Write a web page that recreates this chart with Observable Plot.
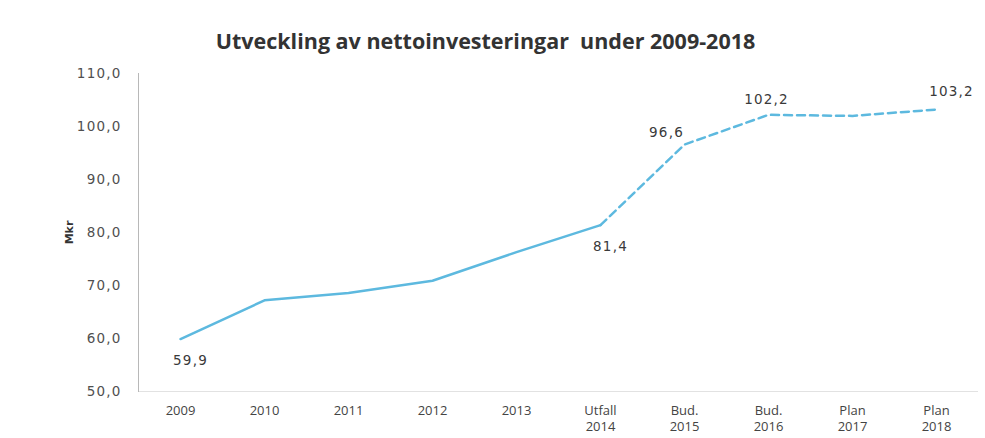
<!DOCTYPE html>
<html>
<head>
<meta charset="utf-8">
<script src="https://cdn.jsdelivr.net/npm/d3@7"></script>
<script src="https://cdn.jsdelivr.net/npm/@observablehq/plot@0.6"></script>
<style>
  html, body { margin: 0; padding: 0; background: #fff; }
  #wrap { width: 985px; height: 438px; position: relative; overflow: hidden; }
  #title { height: 60px; box-sizing: border-box; padding-top: 28px; text-align: center; padding-right: 14px;
    font-family: "Open Sans", sans-serif; font-weight: 700; font-size: 21.5px; line-height: 26px; color: #333; }
  #chart svg { display: block; }
</style>
</head>
<body>
<div id="wrap">
  <div id="title">Utveckling av nettoinvesteringar&nbsp; under 2009-2018</div>
  <div id="chart"></div>
</div>
<script>
const years    = ["2009", "2010", "2011", "2012", "2013", "2014", "2015", "2016", "2017", "2018"];
const prefixes = ["", "", "", "", "", "Utfall", "Bud.", "Bud.", "Plan", "Plan"];
const values   = [59.9, 67.2, 68.6, 70.9, 76.3, 81.4, 96.6, 102.2, 102.0, 103.2];
const yTicks   = [50, 60, 70, 80, 90, 100, 110];
const outcomeCount = 6;            // 2009–2014 are outcomes (solid), 2014 onwards are plans (dashed)
const labelBelow = ["2009", "2014"];
const labelAboveLeft = ["2015"];
const labelAbove = ["2016"];
const labelAboveRight = ["2018"];

const rows = years.map((y, i) => ({year: y, value: values[i], i}));
const solid = rows.filter(d => d.i < outcomeCount);
const dashed = rows.filter(d => d.i >= outcomeCount - 1);
const fmt = v => v.toFixed(1).replace(".", ",");
const catLabel = Object.fromEntries(years.map((y, i) => [y, prefixes[i] ? prefixes[i] + "\n" + y : y]));

const blue = "#5db9df";
const textStyle = {fontFamily: "'DejaVu Sans', sans-serif", fontSize: 13.5, fill: "#3a3a3a"};

const plot = Plot.plot({
  width: 985,
  height: 378,
  marginLeft: 138,
  marginRight: 7,
  marginTop: 13,
  marginBottom: 47,
  style: {fontFamily: "'Open Sans', sans-serif", fontSize: "13px", color: "#444", background: "#fff"},
  x: {type: "point", domain: years, padding: 0.5, label: null},
  y: {domain: [50, 110], label: null},
  marks: [
    Plot.ruleY([50], {stroke: "#e2e2e2", strokeWidth: 1}),
    Plot.frame({anchor: "left", stroke: "#b8b8b8", strokeDasharray: "3,1"}),
    Plot.axisY({ticks: yTicks, tickSize: 0, tickPadding: 17, tickFormat: fmt,
      fontFamily: "'DejaVu Sans', sans-serif", fontSize: 13.5, fill: "#505050",
      label: "Mkr", labelAnchor: "center", labelOffset: 73, labelArrow: "none"}),
    Plot.axisX({tickSize: 0, tickPadding: 11, tickFormat: d => catLabel[d],
      fontFamily: "'Open Sans', sans-serif", fontSize: 13, fill: "#444", lineHeight: 1.3}),
    Plot.line(solid, {x: "year", y: "value", stroke: blue, strokeWidth: 2.5}),
    Plot.line(dashed, {x: "year", y: "value", stroke: blue, strokeWidth: 2.5, strokeDasharray: "8,5"}),
    Plot.text(rows.filter(d => labelBelow.includes(d.year)), {x: "year", y: "value", text: d => fmt(d.value), dy: 22, dx: 10, ...textStyle}),
    Plot.text(rows.filter(d => labelAboveLeft.includes(d.year)), {x: "year", y: "value", text: d => fmt(d.value), dy: -12, dx: -18, ...textStyle}),
    Plot.text(rows.filter(d => labelAbove.includes(d.year)), {x: "year", y: "value", text: d => fmt(d.value), dy: -15, dx: -2, ...textStyle}),
    Plot.text(rows.filter(d => labelAboveRight.includes(d.year)), {x: "year", y: "value", text: d => fmt(d.value), dy: -18, dx: 15, ...textStyle})
  ]
});
document.getElementById("chart").appendChild(plot);
d3.select(plot).selectAll('[aria-label="y-axis tick label"] text, [aria-label="text"] text')
  .style("letter-spacing", "1.2px");
d3.select(plot).selectAll('[aria-label="y-axis label"] text')
  .attr("font-weight", "bold").attr("font-size", 11).attr("fill", "#333");
</script>
</body>
</html>
